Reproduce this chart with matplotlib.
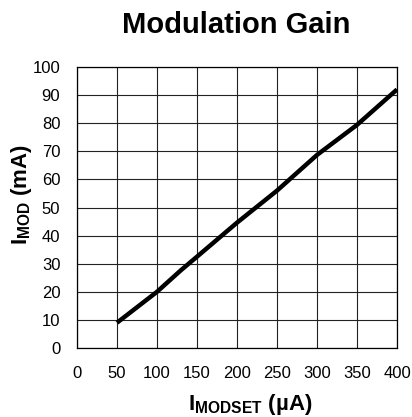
import matplotlib
matplotlib.use("Agg")
import matplotlib.pyplot as plt

# ── Data ─────────────────────────────────────────────────────────────────────
imodset_ua = [50, 100, 130, 150, 200, 250, 300, 350, 400]
imod_ma = [9.0, 20.0, 27.7, 32.5, 44.6, 56.0, 68.7, 79.4, 92.0]

x_ticks = [0, 50, 100, 150, 200, 250, 300, 350, 400]
y_ticks = [0, 10, 20, 30, 40, 50, 60, 70, 80, 90, 100]

# ── Style ────────────────────────────────────────────────────────────────────
plt.rcParams.update({
    'font.family': ['Liberation Sans', 'DejaVu Sans'],
    'mathtext.fontset': 'custom',
    'mathtext.rm': 'Liberation Sans',
    'mathtext.bf': 'Liberation Sans:bold',
    'mathtext.it': 'Liberation Sans:italic',
})

fig = plt.figure(figsize=(4.12, 4.17), dpi=100)
ax = fig.add_axes([77 / 412, 1 - 348 / 417, 320 / 412, 281 / 417])

ax.plot(imodset_ua, imod_ma, color='black', linewidth=3.2,
        solid_capstyle='butt', zorder=3)

ax.set_xlim(0, 400)
ax.set_ylim(0, 100)
ax.set_xticks(x_ticks)
ax.set_yticks(y_ticks)
ax.tick_params(axis='x', length=0, pad=13, labelsize=12)
ax.tick_params(axis='y', length=0, pad=12, labelsize=12)

ax.grid(True, color='#222222', linewidth=0.8)
ax.set_axisbelow(True)
for sp in ax.spines.values():
    sp.set_linewidth(0.9)
    sp.set_color('black')

# ── Texts ────────────────────────────────────────────────────────────────────
fig.text(236 / 412, 1 - 33 / 417, "Modulation Gain",
         ha='center', va='baseline', fontsize=21, fontweight='bold')

fig.text(27 / 412, 1 - 194 / 417, r"$\mathbf{I_{MOD}}$ (mA)",
         ha='center', va='baseline', rotation=90, rotation_mode='anchor',
         fontsize=16, fontweight='bold')

fig.text(250 / 412, 1 - 410 / 417, r"$\mathbf{I_{MODSET}}$ (µA)",
         ha='center', va='baseline', fontsize=16, fontweight='bold')

fig.savefig("out.png", dpi=100, facecolor='white')
plt.close(fig)
